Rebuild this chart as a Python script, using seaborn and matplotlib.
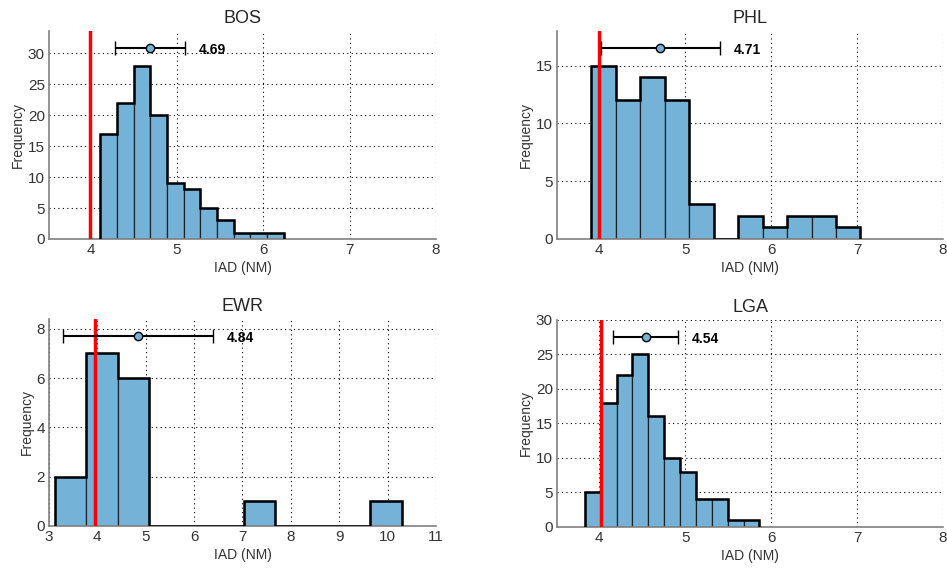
import matplotlib
matplotlib.use("Agg")
import matplotlib.pyplot as plt
import seaborn as sns
import numpy as np
import pandas as pd

# airports, histogram counts and bin range (first/last edge)
airports = ["BOS", "PHL", "EWR", "LGA"]
counts_bos = [17, 22, 28, 20, 9, 8, 5, 3, 1, 1, 1]
counts_phl = [15, 12, 14, 12, 3, 0, 2, 1, 2, 2, 1]
counts_ewr = [2, 7, 6, 0, 0, 0, 1, 0, 0, 0, 1]
counts_lga = [5, 18, 22, 25, 16, 10, 8, 4, 4, 1, 1]
bin_lo = [4.115, 3.911, 3.118, 3.833]
bin_hi = [6.236, 7.040, 10.290, 5.865]

# mean and spread shown by the error bar
means = [4.69, 4.71, 4.84, 4.54]
stds = [0.40, 0.69, 1.55, 0.38]
# red reference line
ref_line = [4.0, 4.0, 3.95, 4.02]

xlims = [(3.52, 8), (3.51, 8), (3, 11), (3.51, 8)]
xticks = [[4, 5, 6, 7, 8], [4, 5, 6, 7, 8], [3, 4, 5, 6, 7, 8, 9, 10, 11], [4, 5, 6, 7, 8]]
ystep = [5, 5, 2, 5]

counts_all = [counts_bos, counts_phl, counts_ewr, counts_lga]

# Parameters
bar_color = "#74b2d8"
axis_gray = "#808080"
text_gray = "#333333"

sns.set_style("white")
plt.rcParams['font.family'] = ['Liberation Sans', 'DejaVu Sans']

fig = plt.figure(figsize=(9.47, 5.69), dpi=100)
positions = [
    [0.0517, 0.580, 0.4087, 0.3656],
    [0.5882, 0.580, 0.4076, 0.3656],
    [0.0517, 0.0756, 0.4087, 0.3638],
    [0.5882, 0.0740, 0.4076, 0.3638],
]

for i, name in enumerate(airports):
    ax = fig.add_axes(positions[i])
    counts = np.array(counts_all[i])
    nbins = len(counts)
    edges = np.linspace(bin_lo[i], bin_hi[i], nbins + 1)
    df = pd.DataFrame({"iad": (edges[:-1] + edges[1:]) / 2, "n": counts})

    sns.histplot(data=df, x="iad", weights="n", bins=nbins,
                 binrange=(bin_lo[i], bin_hi[i]), ax=ax, color=bar_color,
                 alpha=1, edgecolor="#222222", linewidth=0.9)
    # heavier outline around the histogram
    ax.stairs(counts, edges, baseline=0, color="black", linewidth=1.8, zorder=3)

    ax.axvline(ref_line[i], color="red", linewidth=2.5, zorder=4)

    ymax = counts.max()
    ax.errorbar(means[i], 1.1 * ymax, xerr=stds[i], fmt="o", color="black",
                mfc=bar_color, mec="black", ms=6, mew=1, elinewidth=1.5,
                capsize=5, capthick=1.5, zorder=5)
    ax.annotate("%.2f" % means[i], xy=(means[i] + stds[i], 1.1 * ymax),
                xytext=(10, -1), textcoords="offset points", ha="left", va="center",
                fontsize=10, fontweight="bold", color="black")

    ax.set_xlim(*xlims[i])
    ax.set_ylim(0, 1.2 * ymax)
    ax.set_xticks(xticks[i])
    ax.set_yticks(np.arange(0, 1.2 * ymax + 0.01, ystep[i]))
    ax.set_title(name, fontsize=13, pad=6)
    ax.set_xlabel("IAD (NM)", fontsize=10, color=text_gray, labelpad=3)
    ax.set_ylabel("Frequency", fontsize=10, color=text_gray, labelpad=2)

    ax.grid(True, which="major", linestyle=(0, (1, 3)), color="black", linewidth=0.8)
    ax.set_axisbelow(True)
    for side in ["top", "right"]:
        ax.spines[side].set_visible(False)
    for side in ["left", "bottom"]:
        ax.spines[side].set_color(axis_gray)
        ax.spines[side].set_linewidth(1.2)
    ax.tick_params(direction="in", length=3, color=axis_gray, labelsize=11,
                   labelcolor=text_gray, pad=3)

plt.savefig("out.png", dpi=100)
